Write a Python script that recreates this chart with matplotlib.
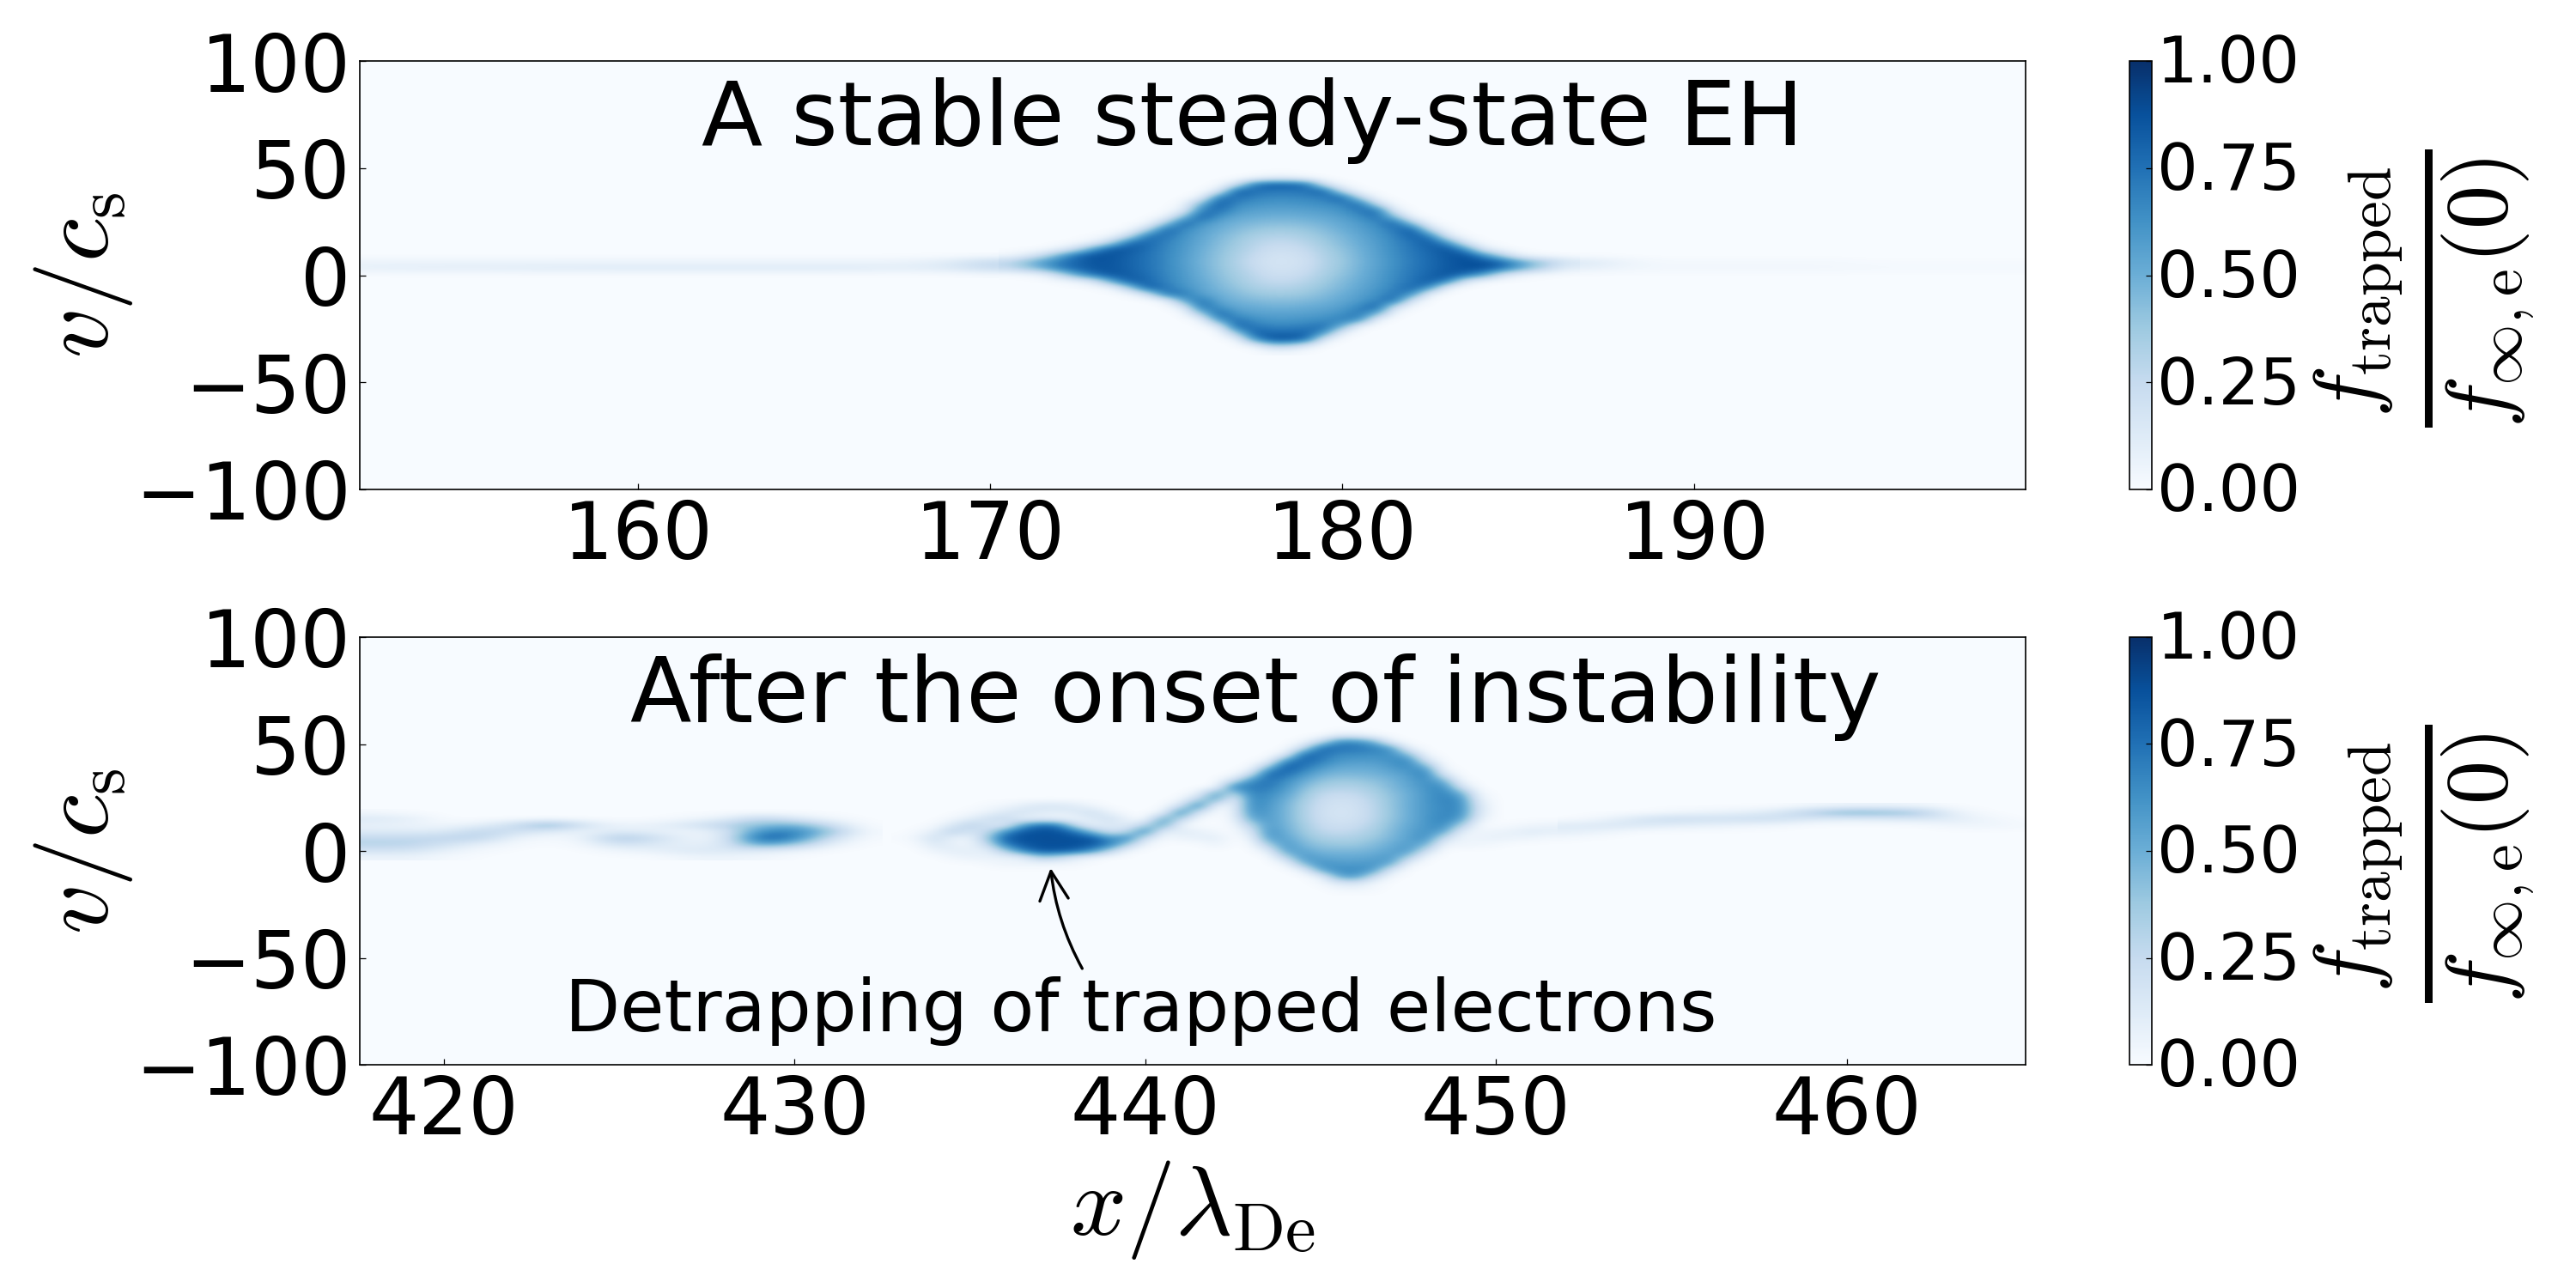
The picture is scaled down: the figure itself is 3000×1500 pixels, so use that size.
import numpy as np
import matplotlib
matplotlib.use('Agg')
import matplotlib.pyplot as plt
from matplotlib.transforms import ScaledTranslation

plt.rcParams['mathtext.fontset'] = 'cm'
plt.rcParams['font.family'] = 'DejaVu Sans'

# trapped distribution on (v, x) grids, percent of f_inf,e(0); rows run from high v to low v
v_top = [48, 45, 42, 39, 36, 33, 30, 27, 24, 21, 18, 15, 12, 9, 6, 3, 0, -3, -6, -9, -12, -15, -18, -21, -24, -27, -30, -33, -36]

# steady hole, x = 170.5..186.5 in steps of 0.5; each row gives its first x and the values from there on
x_hole = [170.5 + 0.5 * k for k in range(33)]
f_hole = [
    (177.5, []),
    (177.5, [4, 10, 10, 4]),
    (176.5, [1, 20, 72, 84, 82, 76, 20, 2]),
    (176.5, [12, 82, 76, 72, 72, 74, 82, 25, 2]),
    (176.0, [6, 72, 76, 68, 66, 66, 67, 70, 82, 30, 2]),
    (175.5, [3, 48, 84, 66, 62, 60, 60, 62, 64, 68, 78, 24, 1]),
    (175.5, [10, 70, 76, 60, 56, 55, 55, 56, 58, 62, 72, 76, 10]),
    (175.0, [5, 45, 82, 62, 53, 51, 49, 49, 51, 53, 57, 64, 76, 45, 3]),
    (174.5, [3, 38, 80, 62, 53, 48, 45, 43, 43, 45, 48, 53, 58, 66, 80, 40, 3]),
    (174.0, [3, 32, 80, 66, 56, 50, 44, 39, 37, 37, 39, 44, 50, 56, 62, 72, 84, 26, 2]),
    (173.0, [1, 5, 30, 76, 74, 62, 54, 46, 40, 34, 31, 31, 35, 40, 46, 53, 60, 68, 82, 72, 14, 1]),
    (172.5, [2, 8, 36, 78, 78, 68, 60, 52, 44, 37, 30, 26, 26, 30, 37, 44, 51, 58, 66, 74, 84, 62, 14, 1]),
    (171.5, [1, 8, 26, 62, 86, 84, 76, 67, 59, 50, 42, 35, 28, 22, 22, 26, 34, 41, 49, 57, 65, 73, 80, 87, 62, 14, 3]),
    (170.5, [3, 10, 25, 52, 78, 88, 86, 80, 74, 66, 58, 49, 41, 33, 25, 19, 19, 23, 32, 39, 48, 56, 64, 72, 78, 85, 88, 65, 35, 8, 2, 1, 0]),
    (170.5, [28, 42, 58, 72, 80, 86, 85, 80, 74, 66, 57, 48, 40, 32, 23, 18, 18, 21, 31, 38, 47, 55, 63, 71, 78, 84, 88, 88, 80, 60, 42, 28, 17]),
    (170.5, [25, 36, 50, 70, 80, 86, 85, 80, 74, 66, 58, 49, 41, 33, 25, 19, 19, 23, 32, 39, 48, 56, 64, 72, 78, 84, 88, 88, 76, 56, 36, 20, 10]),
    (170.5, [1, 2, 6, 26, 56, 76, 86, 82, 76, 67, 59, 50, 42, 35, 28, 22, 22, 26, 34, 41, 49, 57, 65, 73, 80, 87, 76, 58, 22, 6, 2, 1, 0]),
    (172.0, [2, 5, 18, 58, 84, 78, 68, 60, 52, 44, 37, 30, 26, 26, 30, 37, 44, 51, 58, 66, 74, 84, 68, 16, 2]),
    (173.0, [1, 6, 40, 84, 72, 62, 54, 46, 40, 34, 31, 31, 35, 40, 46, 53, 60, 68, 80, 62, 6]),
    (174.0, [3, 22, 74, 72, 56, 50, 44, 39, 37, 37, 39, 44, 50, 56, 62, 74, 64, 5]),
    (175.0, [6, 55, 74, 53, 48, 45, 43, 43, 45, 48, 53, 58, 68, 78, 14]),
    (175.5, [12, 76, 62, 53, 51, 49, 49, 51, 53, 57, 66, 82, 20, 1]),
    (175.5, [1, 38, 80, 60, 56, 55, 55, 56, 58, 62, 74, 50, 2]),
    (176.0, [4, 62, 74, 64, 60, 60, 62, 64, 70, 64, 4]),
    (176.5, [12, 80, 72, 68, 68, 70, 76, 50, 4]),
    (177.0, [38, 82, 78, 78, 80, 62, 8]),
    (177.0, [4, 60, 86, 86, 76, 12]),
    (177.5, [6, 30, 30, 12]),
    (178.0, [2, 2]),
]

# faint streak either side of the hole, rows v = 9, 6, 3, 0
v_tail = [9, 6, 3, 0]
x_tail_left = list(range(152, 171))
f_tail_left = [
    [0, 0, 0, 0, 0, 0, 0, 0, 0, 0, 0, 0, 0, 0, 0, 0, 0, 0, 1],
    [6, 6, 6, 6, 6, 6, 6, 6, 6, 6, 6, 6, 6, 6, 6, 6, 8, 14, 26],
    [8, 9, 10, 10, 10, 11, 11, 12, 12, 12, 12, 12, 12, 12, 12, 10, 10, 14, 23],
    [0, 0, 0, 0, 0, 0, 0, 0, 0, 0, 0, 0, 0, 0, 0, 0, 0, 0, 1],
]
x_tail_right = list(range(187, 201))
f_tail_right = [
    [0, 0, 0, 0, 0, 0, 0, 0, 0, 0, 0, 0, 0, 0],
    [14, 6, 2, 2, 2, 2, 2, 2, 1, 1, 1, 1, 1, 1],
    [8, 4, 3, 3, 3, 3, 3, 3, 2, 2, 2, 2, 2, 2],
    [0, 0, 0, 0, 0, 0, 0, 0, 0, 0, 0, 0, 0, 0],
]

# late phase: half-step grid in x around the surviving hole, rows v = 57..-21
v_bot = [57, 54, 51, 48, 45, 42, 39, 36, 33, 30, 27, 24, 21, 18, 15, 12, 9, 6, 3, 0, -3, -6, -9, -12, -15, -18, -21]

# detrapping blob and its arm, x = 433..442 in steps of 0.5
x_blob = [433, 433.5, 434, 434.5, 435, 435.5, 436, 436.5, 437, 437.5, 438, 438.5, 439, 439.5, 440, 440.5, 441, 441.5, 442]
f_blob = [
    [0, 0, 0, 0, 0, 0, 0, 0, 0, 0, 0, 0, 0, 0, 0, 0, 0, 0, 0],
    [0, 0, 0, 0, 0, 0, 0, 0, 0, 0, 0, 0, 0, 0, 0, 0, 0, 0, 0],
    [0, 0, 0, 0, 0, 0, 0, 0, 0, 0, 0, 0, 0, 0, 0, 0, 0, 0, 0],
    [0, 0, 0, 0, 0, 0, 0, 0, 0, 0, 0, 0, 0, 0, 0, 0, 0, 0, 0],
    [0, 0, 0, 0, 0, 0, 0, 0, 0, 0, 0, 0, 0, 0, 0, 0, 0, 0, 0],
    [0, 0, 0, 0, 0, 0, 0, 0, 0, 0, 0, 0, 0, 0, 0, 0, 0, 0, 0],
    [0, 0, 0, 0, 0, 0, 0, 0, 0, 0, 0, 0, 0, 0, 0, 0, 0, 0, 0],
    [0, 0, 0, 0, 0, 0, 0, 0, 0, 0, 0, 0, 0, 0, 0, 0, 0, 0, 0],
    [0, 0, 0, 0, 0, 0, 0, 0, 0, 0, 0, 0, 0, 0, 0, 0, 0, 0, 0],
    [0, 0, 0, 0, 0, 0, 0, 0, 0, 0, 0, 0, 0, 0, 0, 0, 0, 0, 0],
    [0, 0, 0, 0, 0, 0, 0, 0, 0, 0, 0, 0, 0, 0, 0, 0, 0, 5, 55],
    [0, 0, 0, 0, 0, 0, 0, 0, 0, 0, 0, 0, 0, 0, 0, 0, 2, 32, 55],
    [0, 0, 0, 0, 0, 2, 4, 10, 16, 16, 12, 4, 0, 0, 0, 0, 20, 70, 6],
    [0, 0, 0, 0, 2, 6, 14, 18, 12, 10, 14, 20, 6, 0, 0, 5, 68, 20, 0],
    [0, 0, 0, 3, 10, 20, 24, 8, 8, 6, 4, 14, 20, 6, 0, 55, 32, 2, 0],
    [0, 0, 2, 14, 30, 18, 12, 55, 78, 72, 25, 6, 14, 10, 32, 55, 5, 0, 0],
    [0, 2, 10, 30, 18, 24, 62, 85, 88, 88, 75, 42, 18, 30, 68, 8, 12, 8, 3],
    [1, 6, 20, 8, 6, 38, 82, 88, 88, 88, 88, 85, 60, 66, 22, 2, 6, 8, 10],
    [0, 2, 14, 8, 5, 25, 70, 85, 88, 88, 88, 85, 70, 35, 4, 0, 0, 0, 6],
    [0, 0, 6, 10, 9, 8, 35, 68, 85, 85, 80, 62, 30, 3, 0, 0, 0, 0, 0],
    [0, 0, 0, 4, 7, 7, 7, 10, 35, 28, 12, 5, 0, 0, 0, 0, 0, 0, 0],
    [0, 0, 0, 0, 0, 2, 5, 5, 5, 4, 3, 0, 0, 0, 0, 0, 0, 0, 0],
    [0, 0, 0, 0, 0, 0, 0, 0, 0, 0, 0, 0, 0, 0, 0, 0, 0, 0, 0],
    [0, 0, 0, 0, 0, 0, 0, 0, 0, 0, 0, 0, 0, 0, 0, 0, 0, 0, 0],
    [0, 0, 0, 0, 0, 0, 0, 0, 0, 0, 0, 0, 0, 0, 0, 0, 0, 0, 0],
    [0, 0, 0, 0, 0, 0, 0, 0, 0, 0, 0, 0, 0, 0, 0, 0, 0, 0, 0],
    [0, 0, 0, 0, 0, 0, 0, 0, 0, 0, 0, 0, 0, 0, 0, 0, 0, 0, 0],
]

# surviving hole, x = 442.5..451.5 in steps of 0.5
x_eye = [442.5, 443, 443.5, 444, 444.5, 445, 445.5, 446, 446.5, 447, 447.5, 448, 448.5, 449, 449.5, 450, 450.5, 451, 451.5]
f_eye = [
    [0,  0,  0,  0,  0,  0,  0,  0,  0,  0,  0,  0,  0,  0,  0, 0, 0,  0,  0],
    [0,  0,  0,  0,  0,  0, 10, 10,  3,  0,  0,  0,  0,  0,  0, 0, 0,  0,  0],
    [0,  0,  0,  0,  3, 25, 65, 65, 50,  8,  0,  0,  0,  0,  0, 0, 0,  0,  0],
    [0,  0,  0,  0, 25, 78, 74, 72, 70, 60,  8,  0,  0,  0,  0, 0, 0,  0,  0],
    [0,  0,  0, 10, 78, 75, 65, 65, 63, 64, 45,  3,  0,  0,  0, 0, 0,  0,  0],
    [0,  0,  4, 65, 80, 70, 60, 58, 58, 62, 68, 20,  0,  0,  0, 0, 0,  0,  0],
    [0,  1, 45, 85, 72, 60, 52, 52, 52, 58, 64, 55,  2,  0,  0, 0, 0,  0,  0],
    [0, 20, 80, 75, 62, 50, 46, 46, 48, 52, 58, 70, 15,  0,  0, 0, 0,  0,  0],
    [18, 62, 75, 65, 52, 42, 38, 39, 42, 47, 55, 64, 48,  3,  0, 0, 0,  0,  0],
    [68, 70, 72, 60, 45, 35, 32, 32, 37, 45, 53, 62, 66, 18,  0, 0, 0,  0,  0],
    [32, 68, 66, 55, 40, 28, 25, 27, 33, 42, 50, 60, 68, 50,  4, 0, 0,  0,  0],
    [5, 66, 62, 50, 36, 24, 20, 22, 30, 40, 50, 60, 68, 64, 10, 0, 0,  0,  0],
    [6, 65, 60, 47, 33, 22, 18, 20, 28, 40, 50, 60, 66, 66, 16, 0, 0,  0,  0],
    [6, 62, 58, 47, 33, 21, 17, 19, 28, 39, 50, 60, 66, 66, 16, 0, 0,  0,  0],
    [4, 52, 58, 47, 33, 22, 18, 20, 28, 40, 50, 60, 68, 58, 10, 0, 0,  0,  0],
    [2, 30, 58, 48, 36, 24, 21, 23, 31, 42, 52, 60, 66, 35,  2, 0, 2,  4,  6],
    [0, 15, 62, 50, 38, 28, 25, 28, 34, 44, 54, 62, 56, 10,  4, 6, 8, 12, 10],
    [0,  6, 58, 54, 42, 34, 32, 33, 38, 46, 55, 64, 25,  4,  6, 8, 6,  5,  2],
    [0,  1, 35, 60, 46, 40, 38, 38, 44, 50, 58, 50,  5,  5,  4, 2, 0,  0,  0],
    [0,  0, 10, 56, 54, 46, 46, 46, 48, 54, 60, 22,  0,  0,  0, 0, 0,  0,  0],
    [0,  0,  0, 30, 60, 54, 52, 52, 54, 60, 35,  2,  0,  0,  0, 0, 0,  0,  0],
    [0,  0,  0,  4, 46, 62, 58, 58, 60, 54,  6,  0,  0,  0,  0, 0, 0,  0,  0],
    [0,  0,  0,  0,  8, 54, 64, 64, 60, 15,  0,  0,  0,  0,  0, 0, 0,  0,  0],
    [0,  0,  0,  0,  0,  8, 52, 60, 25,  2,  0,  0,  0,  0,  0, 0, 0,  0,  0],
    [0,  0,  0,  0,  0,  2, 14, 18,  4,  0,  0,  0,  0,  0,  0, 0, 0,  0,  0],
    [0,  0,  0,  0,  0,  0,  3,  4,  2,  0,  0,  0,  0,  0,  0, 0, 0,  0,  0],
    [0,  0,  0,  0,  0,  0,  0,  0,  0,  0,  0,  0,  0,  0,  0, 0, 0,  0,  0],
]

# debris to the left, x = 418..432, v = 18..-3
x_debris = list(range(418, 433))
v_debris = [18, 15, 12, 9, 6, 3, 0, -3]
f_debris = [
    [2,  0, 0,  0,  0,  0,  0, 0, 0,  0,  0,  0,  0,  0, 0],
    [14, 10, 0,  0,  0,  0,  0, 0, 0,  3,  8, 28, 14,  3, 0],
    [8,  6, 4,  8, 22, 48, 18, 5, 8, 16, 30, 42, 50, 22, 0],
    [12, 12, 12, 28, 22, 12,  6, 12, 8,  5, 12, 65, 70, 40, 2],
    [26, 26, 28, 30,  6,  2,  6, 38, 22,  5, 10, 84, 70, 22, 1],
    [30, 30, 20,  8,  2,  0,  3, 20, 14,  8, 12, 60, 40,  8, 0],
    [18, 18,  8,  2,  0,  0,  0,  4,  8, 14, 14, 12,  6,  0, 0],
    [5,  6,  2,  0,  0,  0,  0,  0,  0,  4,  5,  3,  0,  0, 0],
]

# thin filament to the right, x = 452..465, v = 21..0
x_filament = list(range(452, 466))
v_filament = [21, 18, 15, 12, 9, 6, 3, 0]
f_filament = [
    [0, 0, 0,  0,  0,  0,  0,  3,  5,  5,  4,  0, 0, 0],
    [0, 0, 0,  3,  6,  8, 15, 33, 48, 45, 38,  8, 0, 0],
    [0, 4, 16, 24, 20, 22, 22, 14, 10, 12, 15, 12, 4, 0],
    [12, 15, 15, 10,  8,  5,  3,  0,  0,  0,  0,  4, 5, 2],
    [10, 6, 0,  0,  0,  0,  0,  0,  0,  0,  0,  0, 0, 0],
    [2, 0, 0,  0,  0,  0,  0,  0,  0,  0,  0,  0, 0, 0],
    [0, 0, 0,  0,  0,  0,  0,  0,  0,  0,  0,  0, 0, 0],
    [0, 0, 0,  0,  0,  0,  0,  0,  0,  0,  0,  0, 0, 0],
]

x_ticks_top = [160, 170, 180, 190]
x_ticks_bot = [420, 430, 440, 450, 460]
v_ticks = [-100, -50, 0, 50, 100]
cbar_ticks = [0.0, 0.25, 0.5, 0.75, 1.0]

# spread the hole rows out on the full half-step grid
field_hole = np.zeros((len(v_top), len(x_hole)))
for i, (x_start, values) in enumerate(f_hole):
    j = x_hole.index(x_start)
    field_hole[i, j:j + len(values)] = values

x_mid = x_blob + x_eye
field_mid = np.hstack([np.array(f_blob), np.array(f_eye)])

fig = plt.figure(figsize=(20, 10), dpi=150)
W, H = 3000.0, 1500.0


def show_field(ax, field, xs, vs):
    dx = (xs[1] - xs[0]) / 2.0
    dv = (vs[0] - vs[1]) / 2.0
    return ax.imshow(np.array(field) / 100.0, cmap='Blues', vmin=0, vmax=1, aspect='auto', origin='upper',
                     interpolation='bicubic',
                     extent=[xs[0] - dx, xs[-1] + dx, vs[-1] - dv, vs[0] + dv])


def add_panel(images, xlim, xticks, top, bottom):
    ax = fig.add_axes([419 / W, 1 - bottom / H, (2359 - 419) / W, (bottom - top) / H])
    ax.set_facecolor(plt.cm.Blues(0.0))
    for field, xs, vs in images:
        im = show_field(ax, field, xs, vs)
    ax.set_xlim(*xlim)
    ax.set_ylim(-100, 100)
    ax.set_xticks(xticks)
    ax.set_yticks(v_ticks)
    ax.tick_params(direction='in', labelsize=44, length=3.5, width=0.6, pad=5)
    ax.set_ylabel(r'$v/c_{\rm s}$', fontsize=55, labelpad=0)

    cax = fig.add_axes([2480 / W, 1 - bottom / H, 26 / W, (bottom - top) / H])
    cb = fig.colorbar(im, cax=cax, ticks=cbar_ticks)
    cb.ax.set_yticklabels(['%.2f' % t for t in cbar_ticks])
    cb.ax.tick_params(direction='in', labelsize=36, length=3.5, width=0.6, pad=3)
    # colorbar numbers sit a little above their ticks
    nudge = ScaledTranslation(0, 1.5 / 72.0, fig.dpi_scale_trans)
    for lab in cb.ax.get_yticklabels():
        lab.set_transform(lab.get_transform() + nudge)
    cb.set_label(r'$\frac{f_{\rm trapped}}{f_{\infty,{\rm e}}(\mathbf{0})}$', fontsize=70, labelpad=6, y=0.47)
    return ax


ax1 = add_panel([(f_tail_left, x_tail_left, v_tail), (f_tail_right, x_tail_right, v_tail), (field_hole, x_hole, v_top)],
                (152.1, 199.4), x_ticks_top, 71, 570)
ax2 = add_panel([(f_debris, x_debris, v_debris), (f_filament, x_filament, v_filament), (field_mid, x_mid, v_bot)],
                (417.6, 465.1), x_ticks_bot, 742, 1240)

ax1.text(0.536, 72, 'A stable steady-state EH', transform=ax1.get_yaxis_transform(),
         ha='center', va='center', fontsize=50)
ax2.text(0.538, 72, 'After the onset of instability', transform=ax2.get_yaxis_transform(),
         ha='center', va='center', fontsize=50.2)
ax2.text(0.469, -75, 'Detrapping of trapped electrons', transform=ax2.get_yaxis_transform(),
         ha='center', va='center', fontsize=40)

# curved arrow onto the blob
ax2.annotate('', xy=(437.3, -8), xytext=(438.2, -55),
             arrowprops=dict(arrowstyle='->', lw=1.6, color='k', mutation_scale=40,
                             connectionstyle='arc3,rad=-0.1', shrinkA=0, shrinkB=0))

ax2.set_xlabel(r'$x/\lambda_{\rm De}$', fontsize=55, labelpad=4)

fig.savefig('out.png', dpi=150)
